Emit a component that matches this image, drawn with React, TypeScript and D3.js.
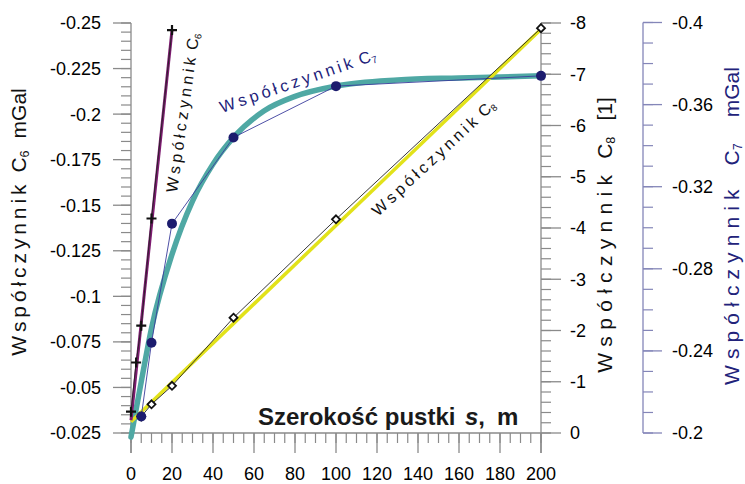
import React from "react";
import * as d3 from "d3";

// x: szerokość pustki s [m]
const xC6 = [0, 2.5, 5, 10, 20];
const c6Values = [-0.0367, -0.0637, -0.0839, -0.1427, -0.2461];
const c6FitX = [0, 20];
const c6FitValues = [-0.032, -0.2461];

const xC7 = [5, 10, 20, 50, 100, 200];
const c7Values = [-0.208, -0.244, -0.302, -0.344, -0.369, -0.374];
const c7FitX = [0, 5, 10, 20, 30, 40, 50, 65, 80, 100, 130, 160, 200];
const c7FitValues = [-0.198, -0.225, -0.251, -0.287, -0.313, -0.331, -0.344, -0.357, -0.364, -0.369, -0.372, -0.373, -0.374];

const xC8 = [5, 10, 20, 50, 100, 200];
const c8Values = [-0.32, -0.56, -0.92, -2.25, -4.17, -7.9];
const c8FitX = [0, 200];
const c8FitValues = [-0.22, -7.88];

// ticks
const xTicks = [0, 20, 40, 60, 80, 100, 120, 140, 160, 180, 200];
const c6Ticks = [-0.025, -0.05, -0.075, -0.1, -0.125, -0.15, -0.175, -0.2, -0.225, -0.25];
const c8Ticks = [0, -1, -2, -3, -4, -5, -6, -7, -8];
const c7Ticks = [-0.2, -0.24, -0.28, -0.32, -0.36, -0.4];

const FONT = "Arial, 'Liberation Sans', Helvetica, sans-serif";
const AXIS = "#8a8a8a";
const NAVY = "#22227a";

function Coef({ sub, ls, gap, sz, tail, tailGap }: any) {
  return (
    <>
      <tspan letterSpacing={ls}>Współczynnik</tspan>
      <tspan dx={gap}>C</tspan>
      <tspan fontSize={sz * 0.6} dy={sz * 0.15}>{sub}</tspan>
      {tail ? (
        <tspan dx={tailGap} dy={-sz * 0.15}>{tail}</tspan>
      ) : null}
    </>
  );
}

export default function App() {
  const x = d3.scaleLinear().domain([0, 200]).range([131, 541]);
  const yC6 = d3.scaleLinear().domain([-0.025, -0.25]).range([433, 23]);
  const yC8 = d3.scaleLinear().domain([0, -8]).range([433, 23]);
  const yC7 = d3.scaleLinear().domain([-0.2, -0.4]).range([433, 22.5]);

  const path = (xs: number[], vs: number[], y: any, curve: any = d3.curveLinear) =>
    d3.line<number>().x((_, i) => x(xs[i])).y((v) => y(v)).curve(curve)(vs) || "";

  const xMinor = d3.range(0, 201, 5);
  const c6Minor = d3.range(46).map((i) => -0.025 - i * 0.005);
  const c8Minor = d3.range(41).map((i) => -i * 0.2);
  const c7Minor = d3.range(21).map((i) => -0.2 - i * 0.01);

  return (
    <svg width={745} height={484} style={{ position: "absolute", left: 0, top: 0, background: "#fff" }} fontFamily={FONT}>
      {/* left axis C6 */}
      <line x1={131} x2={131} y1={23} y2={453} stroke={AXIS} strokeWidth={1.3} />
      {c6Minor.map((v, i) => (
        <line key={"m6" + i} x1={121} x2={131} y1={yC6(v)} y2={yC6(v)} stroke={AXIS} strokeWidth={1.2} />
      ))}
      {c6Ticks.map((v) => (
        <g key={"t6" + v}>
          <line x1={113} x2={131} y1={yC6(v)} y2={yC6(v)} stroke={AXIS} strokeWidth={1.3} />
          <text x={101} y={yC6(v)} dy="0.36em" textAnchor="end" fontSize={18}>{String(v)}</text>
        </g>
      ))}
      {/* x axis */}
      <line x1={131} x2={541} y1={433} y2={433} stroke={AXIS} strokeWidth={1.3} />
      {xMinor.map((v) => (
        <line key={"mx" + v} x1={x(v)} x2={x(v)} y1={433} y2={443} stroke={AXIS} strokeWidth={1.2} />
      ))}
      {xTicks.map((v) => (
        <g key={"tx" + v}>
          <line x1={x(v)} x2={x(v)} y1={433} y2={453} stroke={AXIS} strokeWidth={1.3} />
          <text x={x(v)} y={480} textAnchor="middle" fontSize={18}>{v}</text>
        </g>
      ))}
      {/* right axis C8 */}
      <line x1={541} x2={541} y1={23} y2={453} stroke={AXIS} strokeWidth={1.3} />
      {c8Minor.map((v, i) => (
        <line key={"m8" + i} x1={541} x2={551} y1={yC8(v)} y2={yC8(v)} stroke={AXIS} strokeWidth={1.2} />
      ))}
      {c8Ticks.map((v) => (
        <g key={"t8" + v}>
          <line x1={541} x2={561} y1={yC8(v)} y2={yC8(v)} stroke={AXIS} strokeWidth={1.3} />
          <text x={570} y={yC8(v)} dy="0.36em" fontSize={18}>{String(v)}</text>
        </g>
      ))}
      {/* right axis C7 */}
      <line x1={643} x2={643} y1={22.5} y2={433} stroke="#8486b8" strokeWidth={1.3} />
      {c7Minor.map((v, i) => (
        <line key={"m7" + i} x1={643} x2={653} y1={yC7(v)} y2={yC7(v)} stroke="#8486b8" strokeWidth={1.2} />
      ))}
      {c7Ticks.map((v) => (
        <g key={"t7" + v}>
          <line x1={643} x2={662} y1={yC7(v)} y2={yC7(v)} stroke="#8486b8" strokeWidth={1.3} />
          <text x={672} y={yC7(v)} dy="0.36em" fontSize={18}>{String(v)}</text>
        </g>
      ))}

      {/* fitted curves */}
      <path d={path(c7FitX, c7FitValues, yC7, d3.curveMonotoneX)} fill="none" stroke="#4fa8a4" strokeWidth={5.5} strokeLinecap="round" />
      <path d={path(c8FitX, c8FitValues, yC8)} fill="none" stroke="#e2e21a" strokeWidth={3.5} />
      <path d={path(c6FitX, c6FitValues, yC6)} fill="none" stroke="#7d1b70" strokeWidth={3} />

      {/* data polylines */}
      <path d={path(xC7, c7Values, yC7)} fill="none" stroke="#3a3c9c" strokeWidth={0.9} />
      <path d={path(xC8, c8Values, yC8)} fill="none" stroke="#222" strokeWidth={0.9} />
      <path d={path(xC6, c6Values, yC6)} fill="none" stroke="#222" strokeWidth={0.9} />

      {/* markers */}
      {xC8.map((d, i) => (
        <path key={"d8" + i} transform={`translate(${x(d)},${yC8(c8Values[i])})`} d="M0,-4L4,0L0,4L-4,0Z" fill="#fff" stroke="#111" strokeWidth={1.8} />
      ))}
      {xC7.map((d, i) => (
        <circle key={"c7" + i} cx={x(d)} cy={yC7(c7Values[i])} r={5} fill="#1c1c6e" />
      ))}
      {xC6.map((d, i) => (
        <path key={"p6" + i} transform={`translate(${x(d)},${yC6(c6Values[i])})`} d="M-5,0H5M0,-5V5" stroke="#111" strokeWidth={2.2} />
      ))}

      {/* in-plot labels */}
      <text transform="translate(177,193) rotate(-82)" fontSize={16} fill="#111">
        <Coef sub="6" ls={3.5} gap={4} sz={16} />
      </text>
      <text transform="translate(222,113) rotate(-19)" fontSize={16.5} fill={NAVY}>
        <Coef sub="7" ls={3.5} gap={4} sz={16.5} />
      </text>
      <text transform="translate(378,217) rotate(-43)" fontSize={16} fill="#111">
        <Coef sub="8" ls={3.6} gap={4} sz={16} />
      </text>

      {/* axis titles */}
      <text transform="translate(26,222) rotate(-90)" textAnchor="middle" fontSize={21} fill="#111">
        <Coef sub="6" ls={3.9} gap={8} sz={21} tail="mGal" tailGap={12} />
      </text>
      <text transform="translate(612,235) rotate(-90)" textAnchor="middle" fontSize={21} fill="#111">
        <Coef sub="8" ls={6.3} gap={10} sz={21} tail="[1]" tailGap={16} />
      </text>
      <text transform="translate(739,226) rotate(-90)" textAnchor="middle" fontSize={21} fill={NAVY}>
        <Coef sub="7" ls={6.1} gap={18} sz={21} tail="mGal" tailGap={26} />
      </text>

      <text y={425} fontSize={24} fontWeight="bold" fill="#1a1a1a">
        <tspan x={258}>Szerokość pustki</tspan>
        <tspan x={465} fontStyle="italic">s</tspan>
        <tspan>,</tspan>
        <tspan x={497}>m</tspan>
      </text>
    </svg>
  );
}
